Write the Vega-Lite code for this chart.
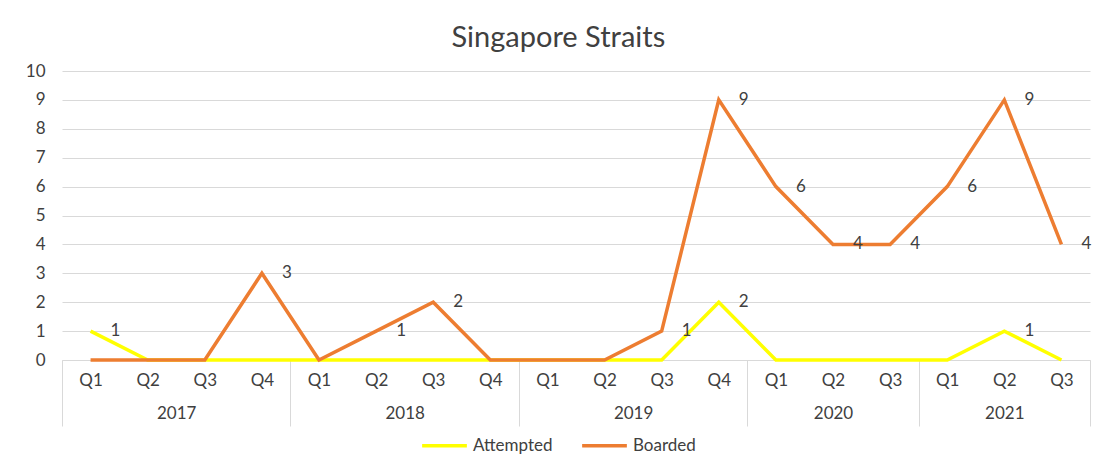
{
  "$schema": "https://vega.github.io/schema/vega-lite/v6.json",
  "width": 1028,
  "height": 289,
  "padding": {"left": 25, "top": 24, "right": 0, "bottom": 0},
  "background": "white",
  "title": {"text": "Singapore Straits", "font": "Lato", "fontSize": 29, "fontWeight": "normal", "color": "#404040", "offset": 9, "frame": "bounds", "anchor": "middle"},
  "config": {"view": {"stroke": null}, "font": "Lato"},
  "data": {"values": [
    {"t": 1, "year": "2017", "quarter": "Q1", "series": "Attempted", "value": 1},
    {"t": 2, "year": "2017", "quarter": "Q2", "series": "Attempted", "value": 0},
    {"t": 3, "year": "2017", "quarter": "Q3", "series": "Attempted", "value": 0},
    {"t": 4, "year": "2017", "quarter": "Q4", "series": "Attempted", "value": 0},
    {"t": 5, "year": "2018", "quarter": "Q1", "series": "Attempted", "value": 0},
    {"t": 6, "year": "2018", "quarter": "Q2", "series": "Attempted", "value": 0},
    {"t": 7, "year": "2018", "quarter": "Q3", "series": "Attempted", "value": 0},
    {"t": 8, "year": "2018", "quarter": "Q4", "series": "Attempted", "value": 0},
    {"t": 9, "year": "2019", "quarter": "Q1", "series": "Attempted", "value": 0},
    {"t": 10, "year": "2019", "quarter": "Q2", "series": "Attempted", "value": 0},
    {"t": 11, "year": "2019", "quarter": "Q3", "series": "Attempted", "value": 0},
    {"t": 12, "year": "2019", "quarter": "Q4", "series": "Attempted", "value": 2},
    {"t": 13, "year": "2020", "quarter": "Q1", "series": "Attempted", "value": 0},
    {"t": 14, "year": "2020", "quarter": "Q2", "series": "Attempted", "value": 0},
    {"t": 15, "year": "2020", "quarter": "Q3", "series": "Attempted", "value": 0},
    {"t": 16, "year": "2021", "quarter": "Q1", "series": "Attempted", "value": 0},
    {"t": 17, "year": "2021", "quarter": "Q2", "series": "Attempted", "value": 1},
    {"t": 18, "year": "2021", "quarter": "Q3", "series": "Attempted", "value": 0},
    {"t": 1, "year": "2017", "quarter": "Q1", "series": "Boarded", "value": 0},
    {"t": 2, "year": "2017", "quarter": "Q2", "series": "Boarded", "value": 0},
    {"t": 3, "year": "2017", "quarter": "Q3", "series": "Boarded", "value": 0},
    {"t": 4, "year": "2017", "quarter": "Q4", "series": "Boarded", "value": 3},
    {"t": 5, "year": "2018", "quarter": "Q1", "series": "Boarded", "value": 0},
    {"t": 6, "year": "2018", "quarter": "Q2", "series": "Boarded", "value": 1},
    {"t": 7, "year": "2018", "quarter": "Q3", "series": "Boarded", "value": 2},
    {"t": 8, "year": "2018", "quarter": "Q4", "series": "Boarded", "value": 0},
    {"t": 9, "year": "2019", "quarter": "Q1", "series": "Boarded", "value": 0},
    {"t": 10, "year": "2019", "quarter": "Q2", "series": "Boarded", "value": 0},
    {"t": 11, "year": "2019", "quarter": "Q3", "series": "Boarded", "value": 1},
    {"t": 12, "year": "2019", "quarter": "Q4", "series": "Boarded", "value": 9},
    {"t": 13, "year": "2020", "quarter": "Q1", "series": "Boarded", "value": 6},
    {"t": 14, "year": "2020", "quarter": "Q2", "series": "Boarded", "value": 4},
    {"t": 15, "year": "2020", "quarter": "Q3", "series": "Boarded", "value": 4},
    {"t": 16, "year": "2021", "quarter": "Q1", "series": "Boarded", "value": 6},
    {"t": 17, "year": "2021", "quarter": "Q2", "series": "Boarded", "value": 9},
    {"t": 18, "year": "2021", "quarter": "Q3", "series": "Boarded", "value": 4}
  ]},
  "resolve": {"axis": {"x": "independent"}},
  "layer": [
    {
      "mark": {"type": "line", "strokeWidth": 3.5},
      "encoding": {
        "x": {"field": "t", "type": "quantitative", "scale": {"domain": [0.5, 18.5], "nice": false, "zero": false},
          "axis": {"orient": "bottom", "title": null, "values": [1,2,3,4,5,6,7,8,9,10,11,12,13,14,15,16,17,18],
            "labelExpr": "datum.value <= 12 ? 'Q' + ((datum.value - 1) % 4 + 1) : 'Q' + ((datum.value - 13) % 3 + 1)",
            "ticks": false, "grid": false, "domain": true, "domainColor": "#d9d9d9", "domainWidth": 1,
            "labelFont": "Lato", "labelFontSize": 17, "labelColor": "#404040", "labelPadding": 12, "labelAngle": 0}},
        "y": {"field": "value", "type": "quantitative", "scale": {"domain": [0, 10], "nice": false},
          "axis": {"title": null, "values": [0,1,2,3,4,5,6,7,8,9,10], "labelOverlap": false, "ticks": false, "domain": false,
            "gridColor": "#d9d9d9", "gridWidth": 1, "labelFont": "Lato", "labelFontSize": 17, "labelColor": "#404040", "labelPadding": 17}},
        "color": {"field": "series", "type": "nominal",
          "scale": {"domain": ["Attempted", "Boarded"], "range": ["#FFFF00", "#ED7D31"]},
          "legend": {"orient": "none", "legendX": 358, "legendY": 350, "direction": "horizontal", "title": null, "symbolType": "stroke",
            "symbolStrokeWidth": 3.5, "symbolSize": 2000, "labelFont": "Lato", "labelFontSize": 17, "labelColor": "#404040",
            "columnPadding": 22, "labelOffset": 4}},
        "order": {"field": "t", "type": "quantitative"}
      }
    },
    {
      "transform": [{"filter": "datum.value > 0"}],
      "mark": {"type": "text", "fontSize": 17, "font": "Lato", "color": "#404040", "dx": 25, "align": "center", "baseline": "middle"},
      "encoding": {
        "x": {"field": "t", "type": "quantitative",
          "axis": {"orient": "bottom", "title": null, "values": [0.5, 2.5, 4.5, 6.5, 8.5, 10.5, 12.5, 14, 15.5, 17, 18.5],
            "labelExpr": "datum.value == 2.5 ? '2017' : datum.value == 6.5 ? '2018' : datum.value == 10.5 ? '2019' : datum.value == 14 ? '2020' : datum.value == 17 ? '2021' : ''",
            "ticks": true, "tickSize": 66, "tickColor": "#d9d9d9", "tickWidth": 1,
            "tickOpacity": {"condition": {"test": "datum.value % 1 != 0 && datum.value != 14 && datum.value != 17 && datum.value != 2.5 && datum.value != 6.5 && datum.value != 10.5", "value": 1}, "value": 0},
            "grid": false, "domain": false, "labelFont": "Lato", "labelFontSize": 17, "labelColor": "#404040",
            "labelPadding": -21, "labelAngle": 0}},
        "y": {"field": "value", "type": "quantitative",
          "axis": {"title": null, "values": [0,1,2,3,4,5,6,7,8,9,10], "labelOverlap": false, "ticks": false, "domain": false,
            "gridColor": "#d9d9d9", "gridWidth": 1, "labelFont": "Lato", "labelFontSize": 17, "labelColor": "#404040", "labelPadding": 17}},
        "text": {"field": "value", "type": "quantitative"}
      }
    }
  ]
}
